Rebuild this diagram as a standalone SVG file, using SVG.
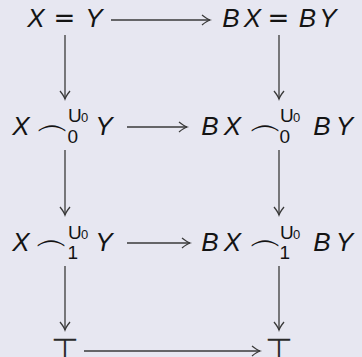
<svg xmlns="http://www.w3.org/2000/svg" width="362" height="357" viewBox="0 0 362 357">
<style>
.m{font-family:"Liberation Sans",Arial,sans-serif;font-style:italic;font-size:26px;fill:#141414;text-anchor:middle}
.u{font-family:"DejaVu Sans",sans-serif;font-size:26px;fill:#141414;text-anchor:middle}
.t{font-family:"DejaVu Sans",sans-serif;font-size:32px;fill:#2a2a2a;text-anchor:middle}
.fr{font-family:"DejaVu Sans",sans-serif;font-weight:200;font-size:26px;fill:#141414;text-anchor:middle}
.s{font-family:"Liberation Sans",Arial,sans-serif;font-size:19px;fill:#141414}
.ss{font-family:"Liberation Sans",Arial,sans-serif;font-size:13px;fill:#141414}
.c line{stroke:#3a3a3a;stroke-width:1.3;fill:none}
</style>
<defs>
<marker id="a" markerUnits="userSpaceOnUse" markerWidth="12" markerHeight="12" refX="0" refY="0" viewBox="-9 -6 11 12" orient="auto" overflow="visible">
<path d="M-8,-5 Q-3,-1 0,0 Q-3,1 -8,5" fill="none" stroke="#3a3a3a" stroke-width="1.3"/>
</marker>
</defs>
<rect width="362" height="357" fill="#e7e7f1"/>
<g class="c">
<line x1="111" y1="20" x2="210" y2="20" marker-end="url(#a)"/>
<line x1="127" y1="127" x2="187" y2="127" marker-end="url(#a)"/>
<line x1="127" y1="243" x2="190" y2="243" marker-end="url(#a)"/>
<line x1="84" y1="351" x2="260" y2="351" marker-end="url(#a)"/>
<line x1="65" y1="35" x2="65" y2="99" marker-end="url(#a)"/>
<line x1="65" y1="150" x2="65" y2="215" marker-end="url(#a)"/>
<line x1="65" y1="266" x2="65" y2="330" marker-end="url(#a)"/>
<line x1="279" y1="35" x2="279" y2="99" marker-end="url(#a)"/>
<line x1="279" y1="150" x2="279" y2="215" marker-end="url(#a)"/>
<line x1="279" y1="266" x2="279" y2="330" marker-end="url(#a)"/>
</g>
<g id="n11">
<text class="m" x="36" y="27">X</text><text class="u" x="64.5" y="27">=</text><text class="m" x="94" y="27">Y</text>
</g>
<g id="n12">
<text class="m" x="231" y="27">B</text><text class="m" x="252.5" y="27">X</text><text class="u" x="278.5" y="27">=</text><text class="m" x="307.5" y="27">B</text><text class="m" x="328" y="27">Y</text>
</g>
<g id="n21">
<text class="m" x="21" y="135">X</text><text class="fr" transform="translate(52,157) scale(1.15,1.3)">⁀</text>
<text class="s" x="68" y="122">U</text><text class="ss" x="81" y="122">0</text><text class="s" x="67.5" y="143">0</text>
<text class="m" x="104" y="135">Y</text>
</g>
<g id="n22">
<text class="m" x="210" y="135">B</text><text class="m" x="232.5" y="135">X</text><text class="fr" transform="translate(265,157) scale(1.15,1.3)">⁀</text>
<text class="s" x="280" y="122">U</text><text class="ss" x="293" y="122">0</text><text class="s" x="279.5" y="143">0</text>
<text class="m" x="322" y="135">B</text><text class="m" x="344.5" y="135">Y</text>
</g>
<g id="n31">
<text class="m" x="21" y="251">X</text><text class="fr" transform="translate(51,272) scale(1.15,1.3)">⁀</text>
<text class="s" x="68" y="239">U</text><text class="ss" x="81" y="239">0</text><text class="s" x="67.5" y="259">1</text>
<text class="m" x="104" y="251">Y</text>
</g>
<g id="n32">
<text class="m" x="210" y="251">B</text><text class="m" x="232.5" y="251">X</text><text class="fr" transform="translate(265,272) scale(1.15,1.3)">⁀</text>
<text class="s" x="280" y="239">U</text><text class="ss" x="293" y="239">0</text><text class="s" x="279.5" y="259">1</text>
<text class="m" x="322" y="251">B</text><text class="m" x="344.5" y="251">Y</text>
</g>
<g id="n41"><text class="t" x="65" y="361">⊤</text></g>
<g id="n42"><text class="t" x="279" y="361">⊤</text></g>
</svg>
